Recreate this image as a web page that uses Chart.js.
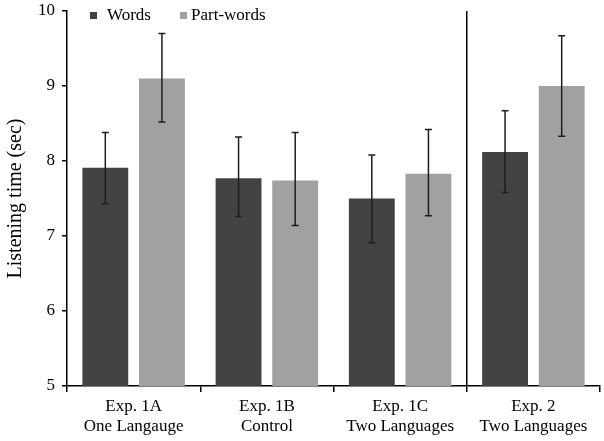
<!DOCTYPE html>
<html>
<head>
<meta charset="utf-8">
<script src="https://cdn.jsdelivr.net/npm/chart.js@4/dist/chart.umd.min.js"></script>
<style>
    html, body { margin: 0; padding: 0; background: #fff; }
    #wrap { width: 604px; height: 441px; }
</style>
</head>
<body>
<div id="wrap"><canvas id="chart"></canvas></div>
<script>
// Data
const categories = [['Exp. 1A', 'One Langauge'], ['Exp. 1B', 'Control'], ['Exp. 1C', 'Two Languages'], ['Exp. 2', 'Two Languages']];
const wordsMean = [7.91, 7.77, 7.50, 8.12];
const wordsLow = [7.43, 7.26, 6.91, 7.58];
const wordsHigh = [8.38, 8.32, 8.08, 8.67];
const partMean = [9.10, 7.74, 7.83, 9.00];
const partLow = [8.52, 7.14, 7.27, 8.33];
const partHigh = [9.70, 8.38, 8.42, 9.67];
const yTicks = [5, 6, 7, 8, 9, 10];

const FONT = "'Liberation Serif', 'Times New Roman', serif";
const darkColor = '#434343';
const lightColor = '#a1a1a1';

// Draws error bars, the separator line and the legend
const extrasPlugin = {
    id: 'extras',
    afterDatasetsDraw(chart) {
        const ctx = chart.ctx;
        const y = chart.scales.y;
        const x = chart.scales.x;
        const area = chart.chartArea;
        const ranges = [[wordsLow, wordsHigh], [partLow, partHigh]];

        ctx.save();
        ctx.strokeStyle = '#1e1e1e';
        ctx.lineWidth = 1.5;
        ranges.forEach((r, di) => {
            chart.getDatasetMeta(di).data.forEach((bar, i) => {
                const yl = y.getPixelForValue(r[0][i]);
                const yh = y.getPixelForValue(r[1][i]);
                ctx.beginPath();
                ctx.moveTo(bar.x, yl);
                ctx.lineTo(bar.x, yh);
                ctx.moveTo(bar.x - 3.5, yl);
                ctx.lineTo(bar.x + 3.5, yl);
                ctx.moveTo(bar.x - 3.5, yh);
                ctx.lineTo(bar.x + 3.5, yh);
                ctx.stroke();
            });
        });

        // separator between Exp. 1 and Exp. 2
        const sepX = (x.getPixelForValue(2) + x.getPixelForValue(3)) / 2;
        ctx.strokeStyle = '#000';
        ctx.lineWidth = 1.5;
        ctx.beginPath();
        ctx.moveTo(sepX, area.top);
        ctx.lineTo(sepX, area.bottom);
        ctx.stroke();

        // legend
        ctx.font = '17px ' + FONT;
        ctx.textBaseline = 'middle';
        ctx.fillStyle = darkColor;
        ctx.fillRect(90, 12, 7, 7);
        ctx.fillStyle = '#000';
        ctx.fillText('Words', 107, 16);
        ctx.fillStyle = lightColor;
        ctx.fillRect(180, 12, 7, 7);
        ctx.fillStyle = '#000';
        ctx.fillText('Part-words', 191, 16);
        ctx.restore();
    }
};

const ctx = document.getElementById('chart').getContext('2d');
new Chart(ctx, {
    type: 'bar',
    data: {
        labels: categories,
        datasets: [
            { label: 'Words', data: wordsMean, backgroundColor: darkColor },
            { label: 'Part-words', data: partMean, backgroundColor: lightColor }
        ]
    },
    options: {
        responsive: true,
        maintainAspectRatio: false,
        animation: false,
        categoryPercentage: 0.85,
        barPercentage: 0.81,
        layout: { padding: { top: 11, right: 4, left: 4, bottom: 0 } },
        plugins: {
            legend: { display: false },
            tooltip: { enabled: false }
        },
        scales: {
            x: {
                offset: true,
                grid: {
                    offset: true,
                    drawOnChartArea: false,
                    drawTicks: true,
                    tickLength: 6,
                    color: '#000',
                    lineWidth: 1.5
                },
                border: { color: '#000', width: 1.5 },
                ticks: {
                    color: '#000',
                    font: { family: FONT, size: 17 },
                    padding: 4
                },
                afterFit(scale) { scale.height = 55; }
            },
            y: {
                min: 5,
                max: 10,
                afterBuildTicks(scale) { scale.ticks = yTicks.map(v => ({ value: v })); },
                grid: {
                    drawOnChartArea: false,
                    drawTicks: true,
                    tickLength: 5,
                    color: '#000',
                    lineWidth: 1.5
                },
                border: { color: '#000', width: 1.5 },
                ticks: {
                    color: '#000',
                    font: { family: FONT, size: 17 },
                    padding: 7
                },
                title: {
                    display: true,
                    text: 'Listening time (sec)',
                    color: '#000',
                    font: { family: FONT, size: 20 },
                    padding: { top: 0, bottom: 6 }
                },
                afterFit(scale) {
                    scale.width = 63;
                    scale.paddingTop = 0;
                    scale.paddingBottom = 0;
                }
            }
        }
    },
    plugins: [extrasPlugin]
});
</script>
</body>
</html>
